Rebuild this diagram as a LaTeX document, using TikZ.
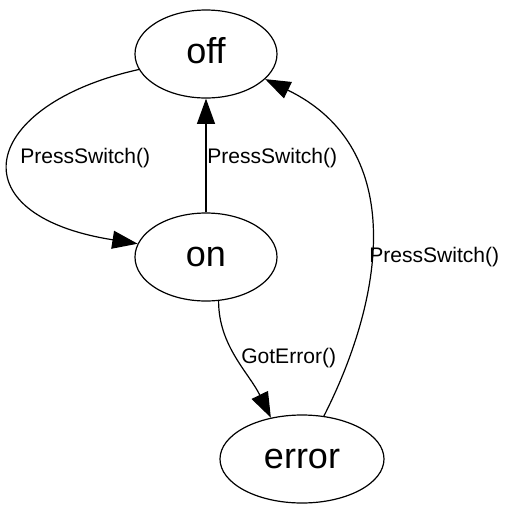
\documentclass[tikz,border=0pt]{standalone}
\usepackage{fontspec}
\setmainfont{Liberation Sans}
\usetikzlibrary{shapes.geometric,arrows.meta}

\begin{document}
\begin{tikzpicture}[x=0.75pt,y=0.75pt,yscale=-1,xscale=1,
	state/.style={draw, ellipse, line width=0.9pt, inner sep=0pt, minimum height=66pt, font=\fontsize{27}{32}\selectfont, text height=14pt, text depth=0pt},
	trans/.style={line width=0.9pt, -{Triangle[length=19pt,width=13.5pt]}},
	lbl/.style={anchor=west, inner sep=0pt, font=\fontsize{15.8}{18}\selectfont}]
	\useasboundingbox (0,0) rectangle (512,512);

	% State
	\node [state, minimum width=106.5pt] (off) at (206,54) {off};
	% State
	\node [state, minimum width=106.5pt] (on) at (206,257) {on};
	% State
	\node [state, minimum width=123pt] (error) at (302,459) {error};

	% Text Node
	\node [lbl] (lbl1) at (20,158) {PressSwitch()};
	% Text Node
	\node [lbl] (lbl2) at (207,158) {PressSwitch()};
	% Text Node
	\node [lbl] (lbl3) at (369,257) {PressSwitch()};
	% Text Node
	\node [lbl] (lbl4) at (241,358) {GotError()};

	% Connection
	\draw [trans] (off.193) .. controls +(-158,35) and +(-184,-29) .. (on.169);
	% Connection
	\draw [trans] (on) -- (off);
	% Connection
	\draw [trans] (on.-74) .. controls +(0,45) and +(-22,-45) .. (error.127);
	% Connection
	\draw [trans] (error.63) .. controls +(59,-116) and +(144,70) .. (off.-23);

\end{tikzpicture}
\end{document}
